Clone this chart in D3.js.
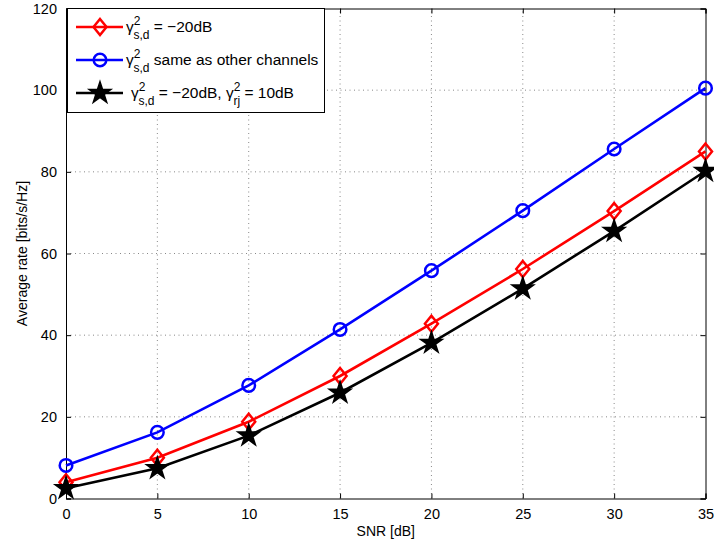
<!DOCTYPE html>
<html>
<head>
<meta charset="utf-8">
<script src="https://cdn.jsdelivr.net/npm/d3@7"></script>
<style>
  body { margin: 0; background: #fff; }
  text { font-family: "Liberation Sans", Arial, sans-serif; }
</style>
</head>
<body>
<div id="chart"></div>
<script>
// SNR values and average rates
const snr = [0, 5, 10, 15, 20, 25, 30, 35];
const rateDirect20 = [4.0, 10.0, 18.8, 30.0, 42.8, 56.2, 70.4, 85.0];
const rateSame = [8.1, 16.2, 27.7, 41.4, 55.8, 70.5, 85.6, 100.5];
const rateDirect20Rj10 = [2.5, 7.4, 15.4, 25.9, 38.1, 51.4, 65.5, 80.2];
const xTicks = [0, 5, 10, 15, 20, 25, 30, 35];
const yTicks = [0, 20, 40, 60, 80, 100, 120];

const width = 714, height = 544;
const margin = { top: 8.5, right: 8.5, bottom: 45.5, left: 66 };

const svg = d3.select('#chart').append('svg')
  .attr('width', width).attr('height', height);

const x = d3.scaleLinear().domain([0, 35]).range([margin.left, width - margin.right]);
const y = d3.scaleLinear().domain([0, 120]).range([height - margin.bottom, margin.top]);

// Dotted grid
const grid = svg.append('g');
xTicks.slice(1, -1).forEach(t => {
  grid.append('line')
    .attr('x1', x(t)).attr('x2', x(t))
    .attr('y1', y(0)).attr('y2', y(120))
    .attr('stroke', '#555').attr('stroke-width', 0.7)
    .attr('stroke-dasharray', '1,3.5');
});
yTicks.slice(1, -1).forEach(t => {
  grid.append('line')
    .attr('x1', x(0)).attr('x2', x(35))
    .attr('y1', y(t)).attr('y2', y(t))
    .attr('stroke', '#555').attr('stroke-width', 0.7)
    .attr('stroke-dasharray', '1,3.5');
});

// Axes (ticks pointing inward, box all round)
const axisB = svg.append('g').attr('transform', `translate(0,${y(0)})`)
  .call(d3.axisBottom(x).tickValues(xTicks).tickSize(-5).tickPadding(10));
const axisT = svg.append('g').attr('transform', `translate(0,${y(120)})`)
  .call(d3.axisTop(x).tickValues(xTicks).tickSize(-5).tickFormat(''));
const axisL = svg.append('g').attr('transform', `translate(${x(0)},0)`)
  .call(d3.axisLeft(y).tickValues(yTicks).tickSize(-5).tickPadding(9));
const axisR = svg.append('g').attr('transform', `translate(${x(35)},0)`)
  .call(d3.axisRight(y).tickValues(yTicks).tickSize(-5).tickFormat(''));

[axisB, axisT, axisL, axisR].forEach(a => {
  a.select('.domain').attr('stroke', '#000').attr('stroke-width', 1);
  a.selectAll('.tick line').attr('stroke', '#000');
  a.selectAll('.tick text').attr('fill', '#000').attr('font-size', 14.5)
    .style('font-family', '"Liberation Sans", Arial, sans-serif');
});

// Axis labels
svg.append('text')
  .attr('x', x(17.5)).attr('y', 536)
  .attr('text-anchor', 'middle').attr('font-size', 14)
  .text('SNR [dB]');
svg.append('text')
  .attr('transform', `translate(27,${y(60)}) rotate(-90)`)
  .attr('text-anchor', 'middle').attr('font-size', 14)
  .text('Average rate [bits/s/Hz]');

// Marker shapes
const star = d3.symbol().type(d3.symbolStar).size(145);
const diamondPath = 'M0,-8L6.5,0L0,8L-6.5,0Z';

const series = [
  { values: rateDirect20, color: '#ff0000', marker: 'diamond' },
  { values: rateSame, color: '#0000ff', marker: 'circle' },
  { values: rateDirect20Rj10, color: '#000000', marker: 'star' },
];

function drawMarker(g, kind, color, cx, cy) {
  if (kind === 'circle') {
    g.append('circle').attr('cx', cx).attr('cy', cy).attr('r', 6.3)
      .attr('fill', 'none').attr('stroke', color).attr('stroke-width', 2.5);
  } else if (kind === 'diamond') {
    g.append('path').attr('d', diamondPath)
      .attr('transform', `translate(${cx},${cy})`)
      .attr('fill', 'none').attr('stroke', color).attr('stroke-width', 2.5);
  } else {
    g.append('path').attr('d', star())
      .attr('transform', `translate(${cx},${cy})`)
      .attr('fill', color).attr('stroke', color).attr('stroke-width', 1.5)
      .attr('stroke-linejoin', 'miter');
  }
}

const line = d3.line().x(d => x(d[0])).y(d => y(d[1]));
const plot = svg.append('g');
series.forEach(s => {
  const pts = snr.map((v, i) => [v, s.values[i]]);
  plot.append('path').datum(pts)
    .attr('d', line)
    .attr('fill', 'none').attr('stroke', s.color).attr('stroke-width', 2.6);
  pts.forEach(p => drawMarker(plot, s.marker, s.color, x(p[0]), y(p[1])));
});

// Legend
const lg = svg.append('g');
lg.append('rect')
  .attr('x', 67.5).attr('y', 8.5).attr('width', 257).attr('height', 104)
  .attr('fill', '#fff').attr('stroke', '#000').attr('stroke-width', 1);

const legendRows = [
  { color: '#ff0000', marker: 'diamond', cy: 27, tx: 126,
    parts: [['γ', ''], ['2', 'sup'], ['s,d', 'sub'], [' = −20dB', '']] },
  { color: '#0000ff', marker: 'circle', cy: 60, tx: 126,
    parts: [['γ', ''], ['2', 'sup'], ['s,d', 'sub'], [' same as other channels', '']] },
  { color: '#000000', marker: 'star', cy: 93, tx: 131,
    parts: [['γ', ''], ['2', 'sup'], ['s,d', 'sub'], [' = −20dB, ', ''], ['γ', ''], ['2', 'sup'], ['rj', 'sub'], [' = 10dB', '']] },
];

legendRows.forEach(r => {
  lg.append('line')
    .attr('x1', 76).attr('x2', 123).attr('y1', r.cy).attr('y2', r.cy)
    .attr('stroke', r.color).attr('stroke-width', 2.6);
  drawMarker(lg, r.marker, r.color, 100, r.cy);

  const t = lg.append('text').attr('x', r.tx).attr('y', r.cy + 5)
    .attr('font-size', 15.5).attr('fill', '#000');
  // superscript over subscript; the text after the subscript goes back to the baseline
  let back = 0;
  r.parts.forEach(([txt, kind]) => {
    if (kind === 'sup') {
      t.append('tspan').attr('dy', -7 + back).attr('font-size', 12).text(txt);
      back = 0;
    } else if (kind === 'sub') {
      t.append('tspan').attr('dx', -7).attr('dy', 14).attr('font-size', 12).text(txt);
      back = -7;
    } else {
      t.append('tspan').attr('dy', back).text(txt);
      back = 0;
    }
  });
});
</script>
</body>
</html>
